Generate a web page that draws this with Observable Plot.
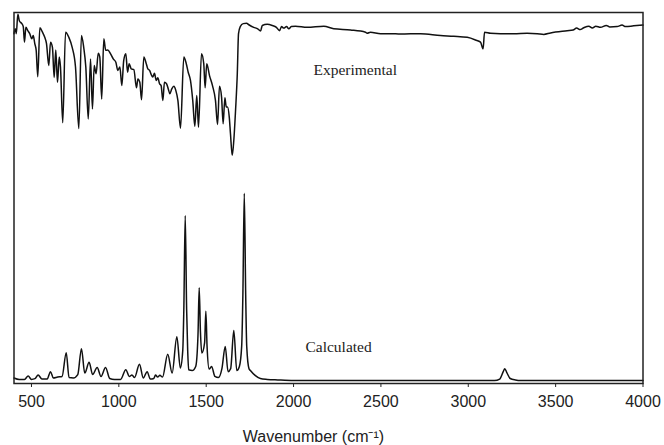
<!DOCTYPE html>
<html>
<head>
<meta charset="utf-8">
<script src="https://cdn.jsdelivr.net/npm/d3@7"></script>
<script src="https://cdn.jsdelivr.net/npm/@observablehq/plot@0.6"></script>
<style>
  html, body { margin: 0; padding: 0; background: #fff; }
  svg { display: block; }
</style>
</head>
<body>
<div id="chart"></div>
<script>
// Experimental spectrum (wavenumber, relative signal in chart units 0-100)
const expWn = [400,407,413,422,431,445,453,460,468,479,490,502,510,519,527,536,548,563,576,586,599,609,620,630,639,649,659,666,679,695,714,733,752,771,786,799,811,825,838,849,859,870,882,891,902,914,925,937,952,968,983,994,1006,1017,1028,1040,1050,1059,1071,1086,1101,1109,1120,1130,1143,1157,1166,1176,1185,1194,1204,1214,1223,1233,1242,1252,1261,1273,1283,1292,1303,1315,1326,1338,1353,1372,1386,1397,1410,1423,1435,1446,1456,1473,1486,1494,1503,1519,1536,1553,1565,1576,1588,1597,1607,1615,1622,1632,1639,1649,1658,1668,1678,1685,1695,1712,1731,1744,1772,1795,1811,1821,1849,1878,1902,1920,1931,1944,1960,1973,1987,2011,2078,2173,2230,2326,2412,2421,2440,2498,2555,2612,2727,2841,2917,2994,3041,3070,3085,3093,3127,3184,3261,3337,3394,3432,3471,3566,3600,3620,3640,3661,3690,3710,3730,3757,3790,3810,3852,3880,3900,3947,4000];
const expY = [94.3,95.6,94.3,99.5,97.7,97.0,96.2,92.0,96.0,95.1,94.3,92.9,93.8,91.6,89.8,82.7,95.9,94.7,93.3,91.6,85.7,92.0,90.6,82.5,89.9,81.2,88.0,85.3,70.3,94.7,93.3,90.6,85.3,68.7,93.8,90.6,85.3,71.3,87.5,74.0,85.7,83.5,89.0,88.0,76.7,92.9,89.8,89.9,88.9,87.5,86.6,84.4,85.3,80.3,87.1,88.9,83.9,86.2,84.8,84.6,79.7,82.1,81.2,76.5,88.0,86.2,84.8,84.4,83.3,82.6,83.6,81.7,82.4,80.8,80.3,76.3,81.2,80.8,79.4,78.1,79.4,80.1,79.0,76.3,68.8,88.0,86.2,83.9,81.7,76.3,69.3,77.6,69.1,88.9,86.2,79.7,86.2,83.0,80.3,76.3,69.8,80.1,77.2,70.0,77.0,74.5,74.5,71.8,67.3,61.5,65.5,73.6,83.5,94.3,96.2,97.0,97.1,96.7,96.0,95.6,95.0,96.5,96.8,96.5,96.0,95.1,96.2,95.8,96.2,95.6,96.2,96.3,96.0,96.3,95.6,95.3,94.7,94.4,94.7,94.3,94.3,94.2,94.3,93.8,93.6,93.3,92.6,92.0,90.2,94.7,94.4,94.3,94.3,94.4,94.3,94.1,94.5,95.1,95.3,95.8,95.4,95.9,96.3,95.8,96.3,96.0,96.5,96.1,96.2,96.6,96.2,96.4,96.6];

// Calculated spectrum (wavenumber, intensity in chart units 0-100)
const calcWn = [400,430,460,481,500,520,538,560,590,609,625,650,675,699,715,740,765,786,805,830,850,876,898,924,948,975,1010,1040,1060,1075,1090,1118,1140,1162,1180,1200,1210,1222,1235,1250,1280,1305,1332,1352,1366,1372,1380,1388,1394,1400,1420,1440,1453,1460,1467,1475,1491,1498,1505,1517,1531,1550,1570,1590,1609,1625,1640,1658,1675,1690,1703,1710,1718,1726,1732,1745,1753,1780,1810,1850,1910,2000,3150,3180,3200,3209,3220,3240,3270,3300,4000];
const calcY = [1.5,1.1,1.1,2.0,1.1,1.3,2.3,1.2,1.2,3.2,1.5,1.75,1.9,8.3,1.6,1.5,2.4,9.4,2.8,5.7,2.4,4.3,1.9,4.3,1.35,1.1,1.1,3.7,1.9,2.3,1.6,5.2,1.5,3.2,1.2,1.35,2.3,1.75,2.2,1.75,7.9,2.8,12.6,4.2,9,20,45.3,20,9,3.7,3.5,4.6,13,25.8,14,8.2,11,19.5,10,3.9,4.6,1.9,1.6,4.0,10.0,3.2,4.0,14.3,3.5,4.6,10,24,51.3,24,10,4.0,3.5,2.2,1.35,1.1,0.95,0.8,0.8,1.2,3.2,4.0,3.0,1.35,0.95,0.8,0.8];

const xTicks = [500,1000,1500,2000,2500,3000,3500,4000];
const seriesLabels = ["Experimental", "Calculated"];
const axisTitle = "Wavenumber (cm⁻¹)";

const expData = expWn.map((w, i) => ({wn: w, y: expY[i]}));
const calcData = calcWn.map((w, i) => ({wn: w, y: calcY[i]}));

const chart = Plot.plot({
  width: 664,
  height: 445,
  marginLeft: 13.5,
  marginRight: 21.5,
  marginTop: 12,
  marginBottom: 62,
  style: {fontFamily: "'Liberation Sans', Arial, sans-serif", fontSize: "16px", color: "#222", background: "#fff"},
  x: {domain: [400, 4000], ticks: xTicks, tickSize: 4, tickPadding: 8.5, label: null, tickFormat: d => String(d)},
  y: {domain: [0, 100], axis: null},
  marks: [
    Plot.line(expData, {x: "wn", y: "y", stroke: "#111", strokeWidth: 1.5, curve: "monotone-x"}),
    Plot.line(calcData, {x: "wn", y: "y", stroke: "#111", strokeWidth: 1.5, curve: "monotone-x"}),
    Plot.text([seriesLabels[0]], {x: 2114, y: 83.2, text: d => d, textAnchor: "start", lineAnchor: "bottom", fontFamily: "'Liberation Serif', 'Times New Roman', serif", fontSize: 15.5, fill: "#222"}),
    Plot.text([seriesLabels[1]], {x: 2068, y: 8.44, text: d => d, textAnchor: "start", lineAnchor: "bottom", fontFamily: "'Liberation Serif', 'Times New Roman', serif", fontSize: 15.5, fill: "#222"}),
    Plot.text([axisTitle], {x: 2114, frameAnchor: "bottom", dy: 58.7, text: d => d, lineAnchor: "bottom", fontSize: 16, fill: "#222"}),
    Plot.frame({stroke: "#222", strokeWidth: 1.5})
  ]
});
document.getElementById("chart").appendChild(chart);
</script>
</body>
</html>
